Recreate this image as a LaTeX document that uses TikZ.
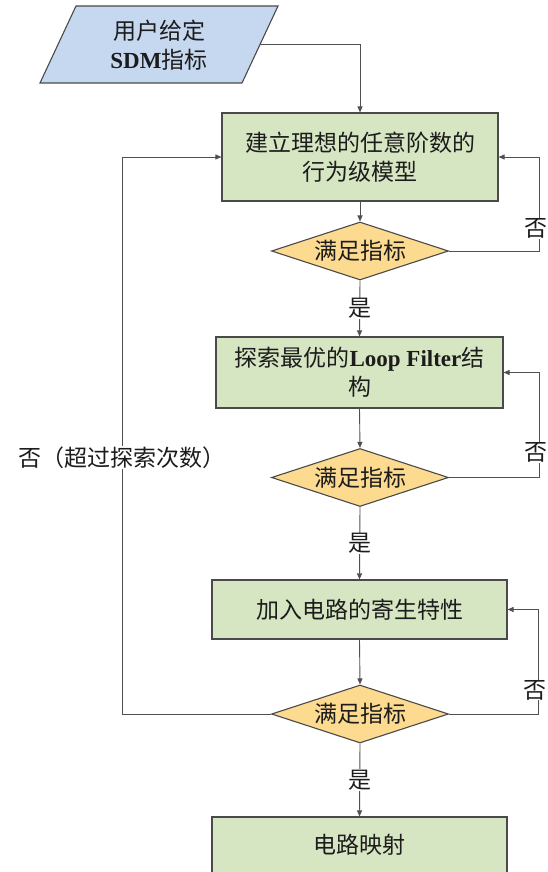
\documentclass[tikz,border=0pt]{standalone}
\usepackage{fontspec}
\setmainfont{Liberation Serif}
\newfontfamily\cjk{Noto Sans CJK SC}
\usetikzlibrary{arrows.meta,shapes.geometric}
\definecolor{boxgreen}{HTML}{D7E6C2}
\definecolor{boxblue}{HTML}{C6D8F0}
\definecolor{boxgold}{HTML}{FCDA90}
\definecolor{edgegrey}{HTML}{4A4A4A}
\definecolor{linegrey}{HTML}{505050}
\definecolor{txt}{HTML}{1C1C1C}
\newcommand{\lat}[1]{{\rmfamily\bfseries #1}}
\tikzset{
  x=1pt,y=-1pt,
  every node/.style={font=\cjk\fontsize{23}{29}\selectfont, text=txt},
  procbox/.style={draw=edgegrey, fill=boxgreen, line width=1.1pt, inner sep=0pt, align=center},
  decide/.style={diamond, draw=edgegrey, fill=boxgold, line width=1.1pt, inner sep=0pt,
                 minimum width=177pt, minimum height=58pt},
  conn/.style={draw=linegrey, line width=0.9pt, -{Triangle[length=6pt,width=5pt]}},
  lbl/.style={fill=white, inner sep=0.5pt},
  nolbl/.style={fill=white, inner sep=0.5pt, xshift=-3pt}
}
\begin{document}
\begin{tikzpicture}
\clip (0,0) rectangle (548,872);
\useasboundingbox (0,0) rectangle (548,872);
\fill[white] (0,0) rectangle (548,872);
% input parallelogram
\draw[draw=edgegrey, fill=boxblue, line width=1.1pt] (76,6) -- (278,6) -- (242,83) -- (40,83) -- cycle;
\node[align=center] (in) at (159,45) {用户给定\\\lat{SDM}指标};
\coordinate (inR) at (260,44.5);
% process boxes
\node[procbox, minimum width=276pt, minimum height=88pt] (b1) at (360,157) {建立理想的任意阶数的\\行为级模型};
\node[decide, label=center:满足指标] (d1) at (360,251) {};
\node[procbox, minimum width=287pt, minimum height=71pt] (b2) at (359.5,372.5) {探索最优的\lat{Loop Filter}结\\构};
\node[decide, label=center:满足指标] (d2) at (360,477.5) {};
\node[procbox, minimum width=295pt, minimum height=59pt] (b3) at (359.5,609.5) {加入电路的寄生特性};
\node[decide, label=center:满足指标] (d3) at (360,714) {};
\node[procbox, minimum width=295pt, minimum height=56pt] (b4) at (359.5,845) {电路映射};
% connectors
\draw[conn] (inR) -| (b1.north);
\draw[conn] (b1.south) -- (d1.north);
\draw[conn] (d1.south) -- node[lbl]{是} (b2.north);
\draw[conn] (b2.south) -- (d2.north);
\draw[conn] (d2.south) -- node[lbl]{是} (b3.north);
\draw[conn] (b3.south) -- (d3.north);
\draw[conn] (d3.south) -- node[lbl]{是} (b4.north);
\draw[conn] (d1.east) -- ++(90,0) |- node[nolbl,pos=0.12]{否} (b1.east);
\draw[conn] (d2.east) -- ++(90,0) |- node[nolbl,pos=0.12]{否} (b2.east);
\draw[conn] (d3.east) -- ++(89,0) |- node[nolbl,pos=0.115]{否} (b3.east);
\draw[conn] (d3.west) -- ++(-149,0) |- node[lbl,pos=0.23]{否（超过探索次数）} (b1.west);
\end{tikzpicture}
\end{document}
